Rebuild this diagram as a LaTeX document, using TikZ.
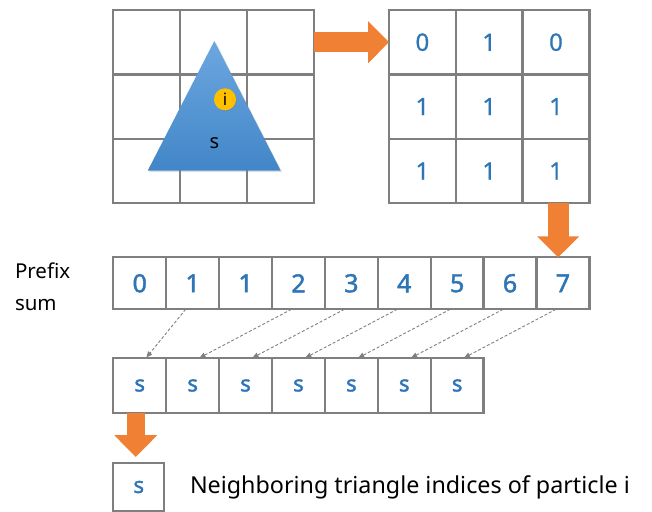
\documentclass[tikz,border=0pt]{standalone}
\usepackage{fontspec}
\setmainfont{Noto Sans}
\newfontfamily\gridfont{Noto Sans}[FakeBold=0.6]
\newfontfamily\rowfont{Noto Sans}[FakeBold=1.8]
\definecolor{GridGray}{RGB}{127, 127, 127}
\definecolor{NumBlue}{RGB}{46, 117, 182}
\definecolor{TriTop}{RGB}{108, 167, 224}
\definecolor{TriBottom}{RGB}{66, 134, 200}
\definecolor{ArrOrange}{RGB}{240, 128, 52}
\definecolor{DotYellow}{RGB}{255, 192, 0}
\usetikzlibrary{positioning, arrows.meta, calc, shadows}

\begin{document}
\begin{tikzpicture}[
  x=1pt, y=-1pt,
  every node/.style={inner sep=0pt, outer sep=0pt},
  cell/.style={rectangle, draw=GridGray, line width=2.3pt, minimum width=66.9pt, minimum height=64.4pt},
  numcell/.style={cell, text=NumBlue, font=\gridfont\fontsize{24}{28}\selectfont},
  rowcell/.style={rectangle, draw=GridGray, line width=2.3pt, minimum width=52.9pt, minimum height=52pt, text=NumBlue, font=\rowfont\fontsize{25}{28}\selectfont},
  scell/.style={rowcell, minimum height=54.4pt, font=\rowfont\fontsize{22}{24}\selectfont},
  label/.style={font=\fontsize{20.5}{24}\selectfont, anchor=base west},
  blockarr/.style={ArrOrange, line width=20pt, -{Triangle[width=41pt, length=21pt]}},
  dasharr/.style={GridGray, line width=0.9pt, dash pattern=on 3pt off 2pt, -{Triangle[length=6pt, width=5pt]}, shorten >=1pt}
]
\useasboundingbox (0,0) rectangle (652,511);

% left grid with the triangle
\foreach \i in {0,1,2}
  \foreach \j in {0,1,2}
    \node[cell] (L-\i-\j) at ({146.75+66.9*\i}, {42.2+64.4*\j}) {};
\path[top color=TriTop, bottom color=TriBottom,
  drop shadow={opacity=0.25, shadow xshift=1.5pt, shadow yshift=-1.5pt}]
  (214.3,41) -- (280.7,170.7) -- (147.7,170.7) -- cycle;
\node[font=\fontsize{20}{24}\selectfont] (tri) at (214.3,142.7) {s};
\node[circle, fill=DotYellow, minimum size=22pt, font=\fontsize{17}{20}\selectfont,
  drop shadow={opacity=0.3, shadow xshift=1pt, shadow yshift=-1pt}] (dot) at (225,99.3) {i};

% right grid
\foreach \v [count=\k from 0] in {0,1,0,1,1,1,1,1,1} {
  \pgfmathtruncatemacro{\i}{mod(\k,3)}
  \pgfmathtruncatemacro{\j}{div(\k,3)}
  \node[numcell, minimum width=66.8pt] (R-\i-\j) at ({422.4+66.8*\i}, {42.2+64.4*\j}) {\v};
}
\draw[blockarr] (L-2-0.east) -- (R-0-0.west);

% prefix sum row
\node[label] (prefixlbl) at (15,278) {Prefix};
\node[label] (sumlbl) at (15,310) {sum};
\foreach \v [count=\k from 0] in {0,1,1,2,3,4,5,6,7}
  \node[rowcell] (P\k) at ({139.75+52.9*\k}, 283.3) {\v};
\draw[blockarr, line width=21pt] ([xshift=2.2pt]R-2-2.south) -- ([xshift=2.2pt]R-2-2.south |- P8.north);

% neighbour indices
\foreach \k in {0,...,6}
  \node[scell] (B\k) at ({139.75+52.9*\k}, 385.5) {s};
\foreach \s/\t in {1/0, 3/1, 4/2, 5/3, 6/4, 7/5, 8/6}
  \draw[dasharr] ([xshift=-7pt]P\s.south) -- ([xshift=6pt]B\t.north);

\node[scell, minimum width=51pt, minimum height=48pt] (F) at (138.8,487) {s};
\draw[blockarr, line width=18pt, -{Triangle[width=42pt, length=22pt]}, shorten >=6pt]
  ([xshift=-4pt]B0.south) -- ([xshift=-4pt]B0.south |- F.north);
\node[label, font=\fontsize{23.3}{26}\selectfont] (note) at (190,493.3) {Neighboring triangle indices of particle i};
\end{tikzpicture}
\end{document}
